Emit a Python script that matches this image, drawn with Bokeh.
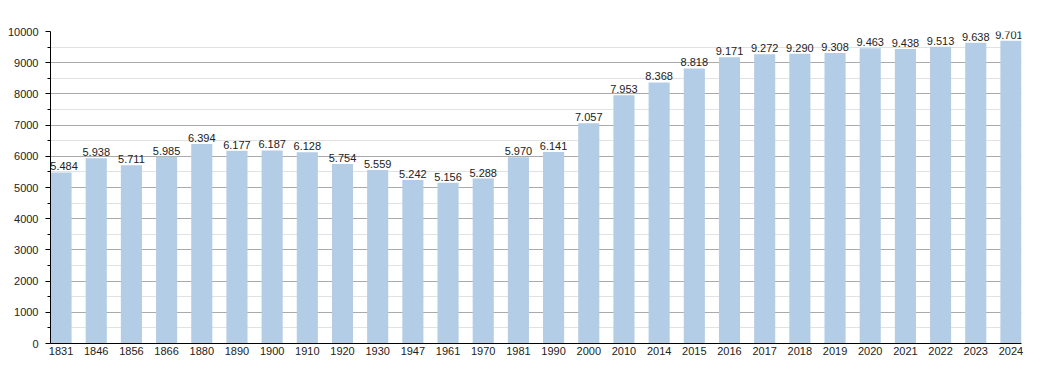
from bokeh.plotting import figure
from bokeh.models import Range1d, FixedTicker, ColumnDataSource, LabelSet
from bokeh.core.properties import value
from bokeh.embed import file_html
from bokeh.resources import INLINE

years = ["1831", "1846", "1856", "1866", "1880", "1890", "1900", "1910", "1920", "1930",
         "1947", "1961", "1970", "1981", "1990", "2000", "2010", "2014", "2015", "2016",
         "2017", "2018", "2019", "2020", "2021", "2022", "2023", "2024"]
population = [5484, 5938, 5711, 5985, 6394, 6177, 6187, 6128, 5754, 5559,
              5242, 5156, 5288, 5970, 6141, 7057, 7953, 8368, 8818, 9171,
              9272, 9290, 9308, 9463, 9438, 9513, 9638, 9701]
y_ticks = [0, 1000, 2000, 3000, 4000, 5000, 6000, 7000, 8000, 9000, 10000]

FONT = "Liberation Sans"
xs = list(range(len(years)))
labels = ["{:,}".format(v).replace(",", ".") for v in population]
# keep the outermost value labels inside the plot frame
offsets = [0] * len(years)
offsets[0] = 3
offsets[-1] = -2
src = ColumnDataSource(dict(x=xs, y=population, label=labels, dx=offsets))

p = figure(width=1042, height=365, output_backend="svg", toolbar_location=None,
           x_range=Range1d(-0.3, len(years) - 0.7), y_range=Range1d(0, 10000),
           min_border_left=50, min_border_right=21, min_border_top=31, min_border_bottom=22)
p.outline_line_color = None
p.background_fill_color = "white"

p.vbar(x="x", top="y", width=0.6, bottom=0, source=src, fill_color="#b3cde6", line_color=None)
labels_set = LabelSet(x="x", y="y", text="label", source=src, text_align="center",
                      text_baseline="bottom", y_offset=2, x_offset="dx", text_font=value(FONT),
                      text_font_size=value("11px"), text_color=value("#222222"))
p.add_layout(labels_set)

p.xaxis.ticker = FixedTicker(ticks=xs)
p.xaxis.major_label_overrides = {i: y for i, y in enumerate(years)}
p.xaxis.major_tick_out = 0
p.xaxis.major_tick_in = 0
p.xaxis.major_tick_line_color = None
p.xaxis.minor_tick_line_color = None
p.xaxis.axis_line_color = "black"
p.xaxis.major_label_text_font = FONT
p.xaxis.major_label_text_font_size = "11px"
p.xaxis.major_label_text_color = "#222222"
p.xaxis.major_label_standoff = 3

p.yaxis.ticker = FixedTicker(ticks=y_ticks, minor_ticks=list(range(500, 10000, 1000)))
p.yaxis.axis_line_color = "black"
p.yaxis.major_tick_out = 5
p.yaxis.major_tick_in = 0
p.yaxis.minor_tick_out = 3
p.yaxis.minor_tick_in = 0
p.yaxis.major_label_text_font = FONT
p.yaxis.major_label_text_font_size = "11px"
p.yaxis.major_label_text_color = "#222222"
p.yaxis.major_label_standoff = 7

p.xgrid.grid_line_color = None
p.ygrid.grid_line_color = "#aaaaaa"
p.ygrid.minor_grid_line_color = "#e2e2e2"
p.ygrid.level = "underlay"

open("out.html", "w").write(file_html(p, INLINE))
